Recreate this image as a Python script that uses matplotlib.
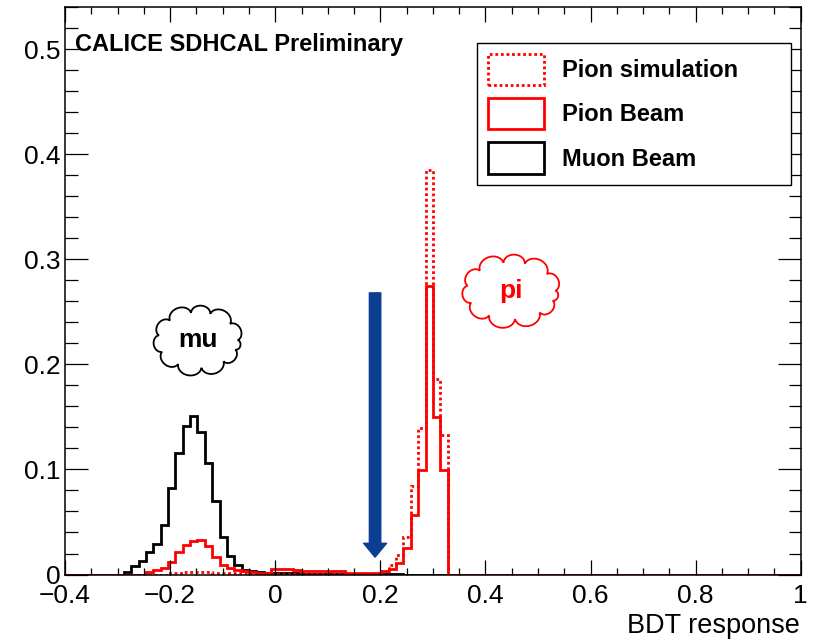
import numpy as np
import matplotlib
matplotlib.use('Agg')
import matplotlib.pyplot as plt
from matplotlib.patches import Patch, Polygon, FancyArrowPatch
from matplotlib.transforms import ScaledTranslation
from matplotlib.ticker import MultipleLocator, FuncFormatter

plt.rcParams['font.family'] = 'Liberation Sans'

# 100 bins between -0.4 and 1.0
bin_edges = np.linspace(-0.4, 1.0, 101)

# normalised BDT response, values read bin by bin starting at *_first_bin
muon_first_bin = 8
muon_beam = [0.002, 0.008, 0.0126, 0.021, 0.029, 0.047, 0.082, 0.116, 0.141,
             0.151, 0.136, 0.106, 0.070, 0.036, 0.018, 0.009, 0.004,
             0.003, 0.002, 0.0015, 0.001, 0.001, 0.001, 0.001, 0.0008, 0.0008,
             0.0008, 0.0006, 0.0006, 0.0006, 0.0005, 0.0005, 0.0005, 0.0005,
             0.0004, 0.0004, 0.0004, 0.0003]

pion_beam_first_bin = 11
pion_beam = [0.002, 0.004, 0.006, 0.012, 0.021, 0.028, 0.0316, 0.033, 0.027,
             0.017, 0.0095, 0.006, 0.004, 0.003,
             0.002, 0.0015, 0.0015, 0.005, 0.0055, 0.0055, 0.004, 0.0035,
             0.0035, 0.0035, 0.0035, 0.003, 0.003, 0.0015, 0.0015, 0.0015,
             0.0015, 0.0015,
             0.003, 0.005, 0.011, 0.025, 0.057, 0.0995, 0.275, 0.150, 0.0995]

pion_sim_first_bin = 14
pion_sim = [0.001, 0.0015, 0.002, 0.002, 0.002, 0.002, 0.0015, 0.0015, 0.001,
            0.001, 0.001, 0.0008, 0.0008, 0.0008, 0.0008, 0.0008, 0.0008,
            0.0008, 0.0008, 0.0008, 0.0008, 0.0008, 0.0008, 0.0008, 0.0008,
            0.0008, 0.0008, 0.0008, 0.0008,
            0.003, 0.009, 0.019, 0.036, 0.084, 0.139, 0.385, 0.186, 0.133]

legend_labels = ['Pion simulation', 'Pion Beam', 'Muon Beam']

# annotations (data coordinates)
cut_value = 0.19
arrow_top, arrow_tip = 0.268, 0.0165
mu_cloud = (-0.147, 0.223)
pi_cloud = (0.449, 0.270)


def fill_bins(first, vals):
    h = np.zeros(len(bin_edges) - 1)
    h[first:first + len(vals)] = vals
    return h


def draw_cloud(ax, center, w, h, color, text):
    # bumpy outline around an ellipse, sizes in pixels
    a, b = w / 2 * 0.82, h / 2 * 0.74
    angs = np.radians([0, 36, 72, 100, 135, 170, 205, 240, 275, 310, 340, 360])
    pts = []
    for t0, t1 in zip(angs[:-1], angs[1:]):
        p0 = np.array([a * np.cos(t0), b * np.sin(t0)])
        p1 = np.array([a * np.cos(t1), b * np.sin(t1)])
        m = (p0 + p1) / 2
        c = p1 - p0
        L = np.hypot(*c)
        n = np.array([c[1], -c[0]]) / L
        for s in np.linspace(0, np.pi, 16):
            pts.append(m - c / 2 * np.cos(s) + n * L / 2 * 0.8 * np.sin(s))
    pts = np.array(pts) / 100.0
    tr = fig.dpi_scale_trans + ScaledTranslation(center[0], center[1], ax.transData)
    ax.add_patch(Polygon(pts, closed=True, fill=False, edgecolor=color, lw=1.3,
                         transform=tr, clip_on=False))
    ax.text(center[0], center[1], text, color=color, fontsize=19,
            fontweight='bold', ha='center', va='center')


fig = plt.figure(figsize=(8.14, 6.43), dpi=100)
ax = fig.add_axes([0.0799, 0.1065, 0.9038, 0.8826])

ax.stairs(fill_bins(muon_first_bin, muon_beam), bin_edges, color='black',
          lw=2.0, baseline=0)
ax.stairs(fill_bins(pion_sim_first_bin, pion_sim), bin_edges, color='red',
          lw=2.0, ls=(0, (1, 1)), baseline=0)
ax.stairs(fill_bins(pion_beam_first_bin, pion_beam), bin_edges, color='red',
          lw=2.0, baseline=0)

ax.set_xlim(-0.4, 1.0)
ax.set_ylim(0, 0.54)
ax.xaxis.set_major_locator(MultipleLocator(0.2))
ax.xaxis.set_minor_locator(MultipleLocator(0.05))
ax.yaxis.set_major_locator(MultipleLocator(0.1))
ax.yaxis.set_minor_locator(MultipleLocator(0.02))
fmt = FuncFormatter(lambda v, p: f'{v:g}'.replace('-', '\u2212'))
ax.xaxis.set_major_formatter(fmt)
ax.yaxis.set_major_formatter(fmt)
ax.tick_params(which='both', direction='in', top=True, right=True,
               labelsize=19, width=0.9)
ax.tick_params(axis='x', which='major', length=10.8, pad=7)
ax.tick_params(axis='x', which='minor', length=5)
ax.tick_params(axis='y', which='major', length=16.5, pad=3)
ax.tick_params(axis='y', which='minor', length=9)
for sp in ax.spines.values():
    sp.set_linewidth(1.1)

ax.text(0.0136, 0.922, 'CALICE SDHCAL Preliminary', transform=ax.transAxes,
        fontsize=17, fontweight='bold', va='baseline')
fig.text(800 / 814, 0.0156, 'BDT response', fontsize=19.5, ha='right',
         va='baseline')

ax.add_patch(FancyArrowPatch((cut_value, arrow_top), (cut_value, arrow_tip),
                             arrowstyle='simple,head_length=10,head_width=16.5,tail_width=8.2',
                             mutation_scale=1, color='#0b3d91', shrinkA=0,
                             shrinkB=0, zorder=3))

draw_cloud(ax, mu_cloud, 97, 75, 'black', 'mu')
draw_cloud(ax, pi_cloud, 108, 77, 'red', 'pi')

handles = [Patch(facecolor='none', edgecolor='red', lw=2.0, ls=(0, (1, 1))),
           Patch(facecolor='none', edgecolor='red', lw=2.0),
           Patch(facecolor='none', edgecolor='black', lw=2.0)]
leg = ax.legend(handles, legend_labels, loc='upper left',
                bbox_to_anchor=(0.560, 0.9365, 0.427, 0.0), mode='expand',
                prop=dict(weight='bold', size=17), handlelength=2.38,
                handleheight=1.67, labelspacing=0.55, handletextpad=0.77,
                borderpad=0.45, borderaxespad=0, fancybox=False, framealpha=1,
                edgecolor='black')
leg.get_frame().set_linewidth(1.0)

fig.savefig('out.png', dpi=100, facecolor='white')
